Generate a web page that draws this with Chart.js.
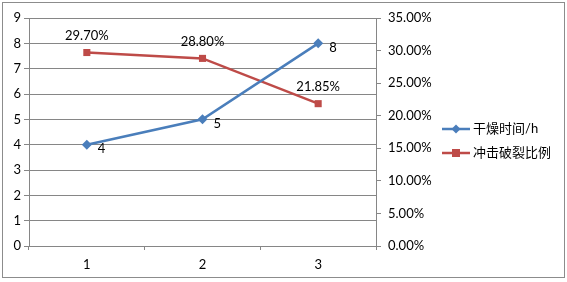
<!DOCTYPE html>
<html>
<head>
<meta charset="utf-8">
<script src="https://cdn.jsdelivr.net/npm/chart.js@4.4.1/dist/chart.umd.min.js"></script>
<style>
  html, body { margin: 0; padding: 0; background: #fff; }
  #wrap { width: 567px; height: 282px; position: relative; }
</style>
</head>
<body>
<div id="wrap"><canvas id="chart" width="567" height="282"></canvas></div>
<script>
"use strict";

var categories = ["1", "2", "3"];
var dryingHours = [4, 5, 8];
var crackRatio = [29.70, 28.80, 21.85];
var seriesNames = ["干燥时间/h", "冲击破裂比例"];
var blue = "#4A7EBB";
var red = "#BE4B48";
var gridGray = "#868686";
var font = "Lato, 'Noto Sans CJK SC', sans-serif";

// frame around the whole chart, like the Excel chart border
var framePlugin = {
    id: "frame",
    beforeDraw: function(chart) {
        var ctx = chart.ctx;
        ctx.save();
        ctx.fillStyle = "#fff";
        ctx.fillRect(0, 0, chart.width, chart.height);
        ctx.strokeStyle = "#8c8c8c";
        ctx.lineWidth = 1;
        ctx.strokeRect(2.5, 2.5, 562, 275);
        ctx.restore();
    }
};

// value labels next to the points
var labelPlugin = {
    id: "pointLabels",
    afterDatasetsDraw: function(chart) {
        var ctx = chart.ctx;
        ctx.save();
        ctx.font = "13px " + font;
        ctx.fillStyle = "#000";
        chart.getDatasetMeta(0).data.forEach(function(pt, i) {
            ctx.textAlign = "left";
            ctx.textBaseline = "middle";
            ctx.fillText(String(dryingHours[i]), pt.x + 11, pt.y + 4);
        });
        chart.getDatasetMeta(1).data.forEach(function(pt, i) {
            ctx.textAlign = "center";
            ctx.textBaseline = "middle";
            ctx.fillText(crackRatio[i].toFixed(2) + "%", pt.x, pt.y - 17);
        });
        ctx.restore();
    }
};

// legend with line + marker samples
var legendPlugin = {
    id: "sideLegend",
    afterDraw: function(chart) {
        var ctx = chart.ctx;
        var x0 = 442, ys = [129, 153];
        ctx.save();
        chart.data.datasets.forEach(function(ds, i) {
            var y = ys[i];
            ctx.strokeStyle = ds.borderColor;
            ctx.lineWidth = 2.5;
            ctx.beginPath();
            ctx.moveTo(x0, y);
            ctx.lineTo(x0 + 28, y);
            ctx.stroke();
            ctx.fillStyle = ds.borderColor;
            if (ds.pointStyle === "rectRot") {
                ctx.beginPath();
                ctx.moveTo(x0 + 14, y - 4.5);
                ctx.lineTo(x0 + 18.5, y);
                ctx.lineTo(x0 + 14, y + 4.5);
                ctx.lineTo(x0 + 9.5, y);
                ctx.closePath();
                ctx.fill();
            } else {
                ctx.fillRect(x0 + 10, y - 4, 8, 8);
            }
            ctx.fillStyle = "#000";
            ctx.font = "13px " + font;
            ctx.textAlign = "left";
            ctx.textBaseline = "middle";
            ctx.fillText(ds.label, x0 + 31, y);
        });
        ctx.restore();
    }
};

new Chart(document.getElementById("chart"), {
    type: "line",
    data: {
        labels: categories,
        datasets: [
            {
                label: seriesNames[0],
                data: dryingHours,
                yAxisID: "y",
                borderColor: blue,
                backgroundColor: blue,
                borderWidth: 2.5,
                pointStyle: "rectRot",
                pointRadius: 5,
                pointBorderWidth: 0,
                tension: 0
            },
            {
                label: seriesNames[1],
                data: crackRatio,
                yAxisID: "y1",
                borderColor: red,
                backgroundColor: red,
                borderWidth: 2.5,
                pointStyle: "rect",
                pointRadius: 5,
                pointBorderWidth: 0,
                tension: 0
            }
        ]
    },
    options: {
        responsive: false,
        animation: false,
        layout: { padding: { left: 0, right: 111, top: 18, bottom: 6 } },
        plugins: {
            legend: { display: false },
            tooltip: { enabled: false }
        },
        scales: {
            x: {
                offset: true,
                border: { color: gridGray, width: 1 },
                grid: { offset: true, drawOnChartArea: false, drawTicks: true, tickLength: 4, color: gridGray },
                ticks: { color: "#000", font: { family: font, size: 13 }, padding: 7 },
                afterFit: function(scale) { scale.height = 30; }
            },
            y: {
                position: "left",
                min: 0,
                max: 9,
                border: { color: gridGray, width: 1 },
                grid: { color: gridGray, tickLength: 5 },
                ticks: { stepSize: 1, color: "#000", font: { family: font, size: 13 }, padding: 3 },
                afterFit: function(scale) { scale.width = 29; }
            },
            y1: {
                position: "right",
                min: 0,
                max: 35,
                border: { color: gridGray, width: 1 },
                grid: { drawOnChartArea: false, color: gridGray, tickLength: 5 },
                ticks: {
                    stepSize: 5,
                    color: "#000",
                    font: { family: font, size: 13 },
                    padding: 7,
                    callback: function(v) { return v.toFixed(2) + "%"; }
                },
                afterFit: function(scale) { scale.width = 80; }
            }
        }
    },
    plugins: [framePlugin, labelPlugin, legendPlugin]
});
</script>
</body>
</html>
